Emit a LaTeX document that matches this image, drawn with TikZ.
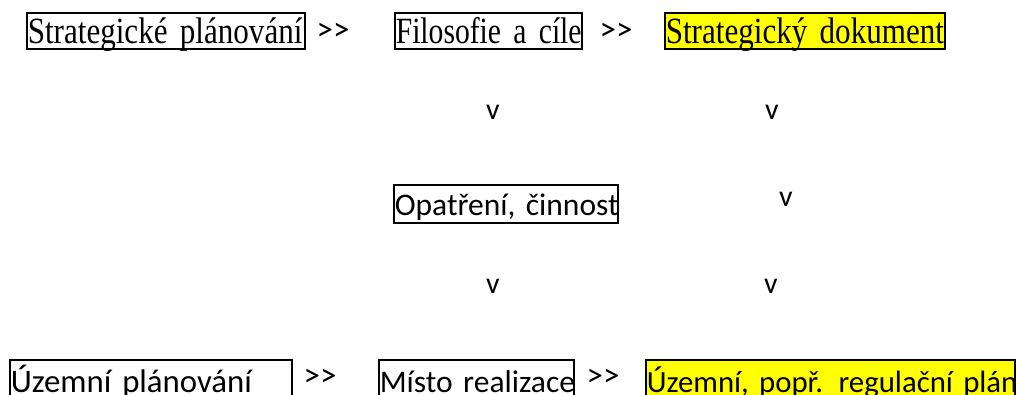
\documentclass[tikz,border=0pt]{standalone}
\usepackage{fontspec}
\newfontfamily\serifface[FakeStretch=0.84]{Liberation Serif}
\newfontfamily\serifnarrow[FakeStretch=0.80]{Liberation Serif}
\newfontfamily\sansface{Carlito}
\definecolor{marker}{HTML}{FFFF00}
\tikzset{
  box/.style={draw, line width=1.6pt, inner xsep=1pt, inner ysep=0pt,
              anchor=north west, align=left},
  hl/.style={fill=marker},
  serif/.style={font=\serifface\fontsize{37}{37}\selectfont},
  sans/.style={font=\sansface\fontsize{31.5}{31.5}\selectfont},
  sep/.style={font=\sansface\fontsize{33}{33}\selectfont, inner sep=0pt, anchor=center},
  down/.style={font=\sansface\fontsize{30}{30}\selectfont, inner sep=0pt, anchor=base west},
}
\begin{document}
\begin{tikzpicture}[x=1pt,y=-1pt]
  \clip (0,0) rectangle (1019,394);
  \fill[white] (0,0) rectangle (1019,394);

  % top row: strategic planning
  \node[box, serif, text width=276pt, text height=31pt, text depth=5pt] (sp) at (26,12) {\mbox{Strategické plánování}};
  \node[sep] (s1) at (333,32) {>>};
  \node[box, serif, text width=185pt, text height=31pt, text depth=5pt,
        font=\serifnarrow\fontsize{37}{37}\selectfont] (fc) at (394,12) {\mbox{Filosofie a cíle}};
  \node[sep] (s2) at (616,32) {>>};
  \node[box, serif, hl, text width=278pt, text height=31pt, text depth=5pt] (sd) at (664,12) {\mbox{Strategický dokument}};

  % downward marks
  \node[down] (v1) at (486,119) {v};
  \node[down] (v2) at (765,119) {v};

  % middle row
  \node[box, sans, text width=222pt, text height=31pt, text depth=7pt] (op) at (393,184) {\mbox{Opatření, činnost}};
  \node[down] (v3) at (779,206) {v};

  \node[down] (v4) at (486,293) {v};
  \node[down] (v5) at (764,293) {v};

  % bottom row: spatial planning
  \node[box, sans, text width=280pt, text height=33pt, text depth=10pt,
        font=\sansface\fontsize{32.8}{32.8}\selectfont] (up) at (9,359) {\mbox{Územní plánování}};
  \node[sep] (s3) at (320,378) {>>};
  \node[box, sans, text width=193pt, text height=33pt, text depth=10pt] (mr) at (378,359) {\mbox{Místo realizace}};
  \node[sep] (s4) at (603,378) {>>};
  \node[box, sans, hl, text width=367pt, text height=33pt, text depth=10pt,
        font=\sansface\fontsize{30.8}{30.8}\selectfont] (ur) at (645,359) {\mbox{Územní, popř. regulační plán}};
\end{tikzpicture}
\end{document}
